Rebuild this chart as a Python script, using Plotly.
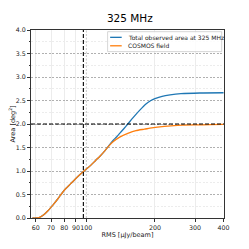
import plotly.graph_objects as go

# Data
cosmos_rms = [58, 60, 62, 65, 68, 70, 72, 75, 80, 85, 89, 93, 97, 100, 105, 110, 115, 121,
              126, 131, 140, 152, 165, 180, 190, 210, 235, 265, 300, 350, 400]
cosmos_area = [0.0, 0.0, 0.01, 0.07, 0.16, 0.23, 0.30, 0.41, 0.59, 0.72, 0.82, 0.91, 0.99, 1.04,
               1.13, 1.23, 1.32, 1.44, 1.54, 1.62, 1.72, 1.80, 1.86, 1.89, 1.91, 1.94, 1.96,
               1.975, 1.98, 1.985, 1.99]

total_rms = [58, 60, 62, 65, 68, 70, 72, 75, 80, 85, 89, 93, 97, 100, 105, 110, 115, 121,
             126, 131, 136, 140, 146, 152, 160, 172, 182, 192, 200, 215, 233, 260, 315, 400]
total_area = [0.0, 0.0, 0.01, 0.07, 0.16, 0.23, 0.30, 0.41, 0.59, 0.72, 0.82, 0.91, 0.99, 1.04,
              1.13, 1.23, 1.32, 1.44, 1.55, 1.65, 1.73, 1.80, 1.90, 2.0, 2.13, 2.30, 2.42,
              2.50, 2.54, 2.59, 2.62, 2.645, 2.66, 2.665]

series_names = ["Total observed area at 325 MHz", "COSMOS field"]
series_colors = ["#1f77b4", "#ff7f0e"]

x_tickvals = [60, 70, 80, 90, 100, 200, 300, 400]
x_minor_vals = [60, 70, 80, 90, 200, 300, 400]
x_major_grid = 100
threshold_rms = 97
target_area = 2.0

font = "DejaVu Sans"

fig = go.Figure()
for xs, ys, nm, col in [(total_rms, total_area, series_names[0], series_colors[0]),
                        (cosmos_rms, cosmos_area, series_names[1], series_colors[1])]:
    fig.add_trace(go.Scatter(x=xs, y=ys, mode="lines", name=nm, showlegend=False,
                             line=dict(color=col, width=1.3, shape="spline", smoothing=0.6)))

# dashed major gridline at 100
fig.add_shape(type="line", xref="x", yref="paper", x0=x_major_grid, x1=x_major_grid, y0=0, y1=1,
              line=dict(color="#b0b0b0", width=0.7, dash="2px,1.5px"), layer="below")
# reference lines
fig.add_shape(type="line", xref="x", yref="paper", x0=threshold_rms, x1=threshold_rms, y0=0, y1=1,
              line=dict(color="black", width=1.1, dash="4px,2px"))
fig.add_shape(type="line", xref="paper", yref="y", x0=0, x1=1, y0=target_area, y1=target_area,
              line=dict(color="black", width=1.1, dash="4px,2px"))

# legend box (drawn manually for compact spacing)
fig.add_shape(type="rect", xref="paper", yref="paper", x0=0.397, x1=0.988, y0=0.885, y1=0.991,
              line=dict(color="#cccccc", width=0.8), fillcolor="rgba(255,255,255,0.85)")
for i, (nm, col) in enumerate(zip(series_names, series_colors)):
    yy = 0.961 - i * 0.045
    fig.add_shape(type="line", xref="paper", yref="paper", x0=0.410, x1=0.470, y0=yy, y1=yy,
                  line=dict(color=col, width=1.3))
    fig.add_annotation(xref="paper", yref="paper", x=0.492, y=yy, text=nm, showarrow=False,
                       xanchor="left", yanchor="middle",
                       font=dict(family=font, size=6, color="#222"))

fig.update_layout(
    width=241, height=241,
    margin=dict(l=23, r=25, t=22, b=31),
    paper_bgcolor="white", plot_bgcolor="white",
    title=dict(text="325 MHz", x=0.512, xref="paper", xanchor="center",
               yref="container", y=0.958, yanchor="middle",
               font=dict(family=font, size=10.5, color="black")),
    font=dict(family=font, size=6.5, color="#222"),
    showlegend=False,
    xaxis=dict(type="log", range=[1.757, 2.604], automargin=False, tickangle=0,
               tickmode="array", tickvals=x_tickvals, ticktext=[str(v) for v in x_tickvals],
               showgrid=False, ticks="outside", ticklen=3, tickcolor="#333",
               showline=True, linecolor="#333", linewidth=1, mirror=True,
               zeroline=False, tickfont=dict(size=6.3),
               title=dict(text="RMS [μJy/beam]", standoff=2, font=dict(family=font, size=6.5)),
               minor=dict(tickmode="array", tickvals=x_minor_vals, showgrid=True,
                          gridcolor="#ececec", gridwidth=0.8, ticks="")),
    yaxis=dict(range=[0, 4], dtick=0.5, tick0=0, tickformat=".1f", automargin=False,
               showgrid=True, gridcolor="#b0b0b0", gridwidth=0.6, griddash="2px,1.5px",
               ticks="outside", ticklen=3, tickcolor="#333",
               showline=True, linecolor="#333", linewidth=1, mirror=True,
               zeroline=False, tickfont=dict(size=6.3),
               title=dict(text="Area [deg<sup>2</sup>]", standoff=3, font=dict(family=font, size=6.5)),
               minor=dict(tick0=0.25, dtick=0.5, showgrid=True, gridcolor="#ececec",
                          gridwidth=0.8, ticks="outside", ticklen=1.5, tickcolor="#333")),
)

fig.write_html("out.html")
